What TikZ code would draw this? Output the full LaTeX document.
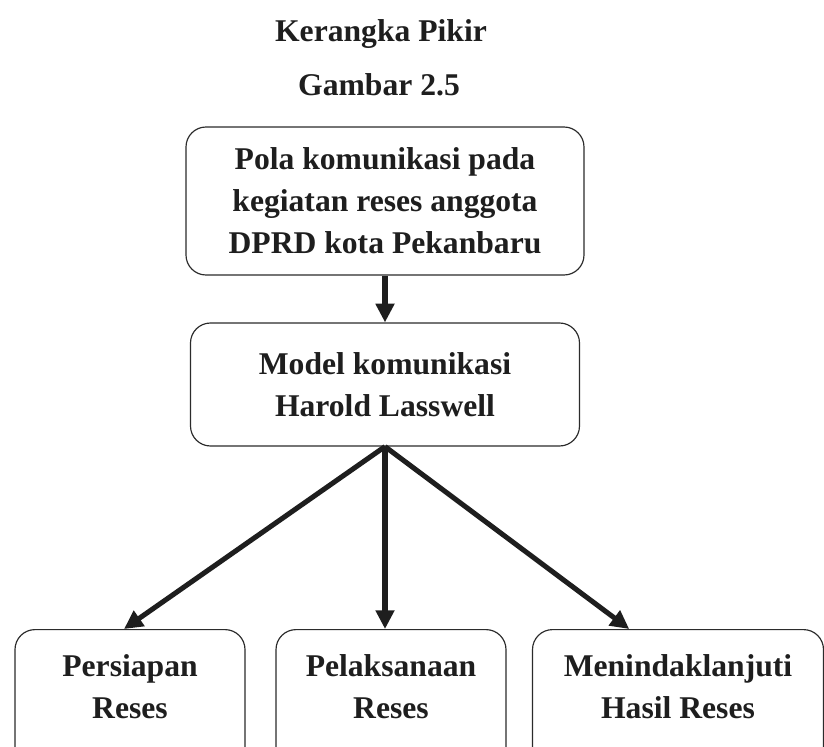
\documentclass[tikz,border=0pt]{standalone}
\usepackage{fontspec}
\setmainfont{Liberation Serif}
\usepackage{tikz}
\usetikzlibrary{positioning,arrows.meta,calc}
\definecolor{chitam}{HTML}{1E1E1E}
\definecolor{cgaris}{HTML}{2B2B2B}
\tikzset{
  kotak/.style={rectangle, rounded corners=0.6cm, draw=cgaris, line width=1pt,
    fill=white, align=center, text=chitam, font=\fontsize{27}{36}\selectfont\bfseries},
  kotakb/.style={kotak, anchor=north, minimum width=6.9cm, inner ysep=0.75cm,
    text depth=2.2cm},
  judul/.style={anchor=base, text=chitam, font=\fontsize{27}{36}\selectfont\bfseries},
  panah/.style={-{Triangle[length=0.56cm, width=0.54cm]}, line width=4.3pt, draw=chitam},
}

\begin{document}
\begin{tikzpicture}
  \useasboundingbox (0,0) rectangle (24.72,-22.41);
  \clip (0,0) rectangle (24.72,-22.41);
  \node[judul] (kerangka) at (11.43,-1.26) {Kerangka Pikir};
  \node[judul] (gambar) at (11.37,-2.88) {Gambar 2.5};
  \node[kotak, minimum width=11.94cm, minimum height=4.44cm] (pola) at (11.55,-6.03)
    {Pola komunikasi pada\\kegiatan reses anggota\\DPRD kota Pekanbaru};
  \node[kotak, minimum width=11.67cm, minimum height=3.69cm] (model) at (11.55,-11.535)
    {Model komunikasi\\Harold Lasswell};
  \node[kotakb] (persiapan) at (3.9,-18.87) {Persiapan\\Reses};
  \node[kotakb] (pelaksanaan) at (11.73,-18.87) {Pelaksanaan\\Reses};
  \node[kotakb, minimum width=8.73cm] (tindak) at (20.34,-18.87) {Menindaklanjuti\\Hasil Reses};
  \draw[panah] (pola.south) -- (model.north);
  \draw[panah] (model.south) -- ($(persiapan.north west)!0.474!(persiapan.north east)$);
  \draw[panah] (model.south) -- (model.south |- pelaksanaan.north);
  \draw[panah] (model.south) -- ($(tindak.north west)!0.333!(tindak.north east)$);
\end{tikzpicture}
\end{document}
